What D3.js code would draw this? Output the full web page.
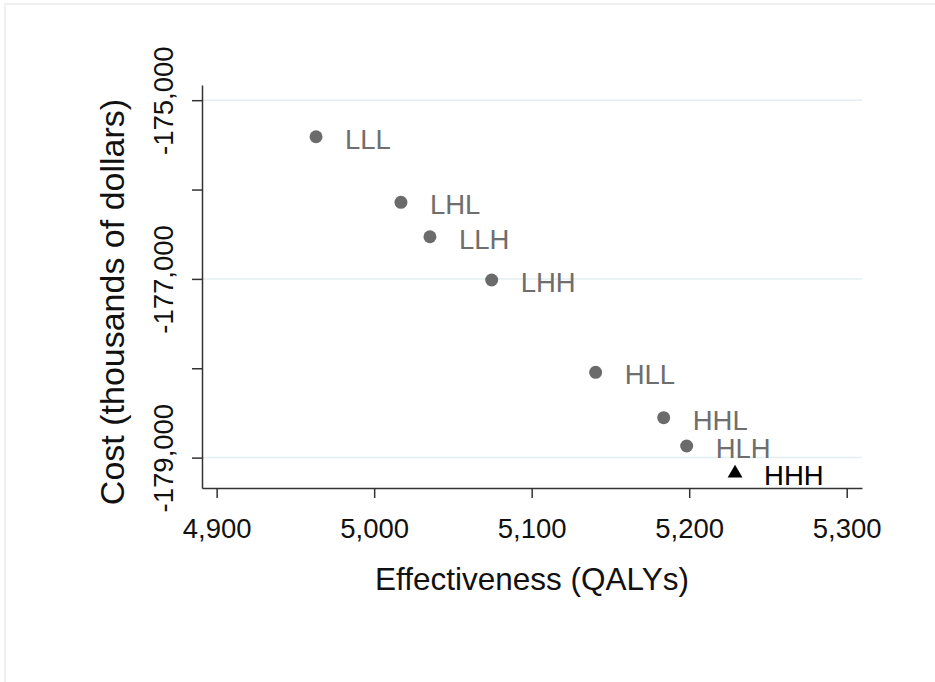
<!DOCTYPE html>
<html>
<head>
<meta charset="utf-8">
<script src="https://cdn.jsdelivr.net/npm/d3@7"></script>
<style>
  body { margin: 0; background: #fff; }
  svg text { font-family: "Liberation Sans", Arial, sans-serif; }
</style>
</head>
<body>
<div class="chart"></div>
<script>
// strategy labels and their (effectiveness, cost) values
var strategies = ["LLL", "LHL", "LLH", "LHH", "HLL", "HHL", "HLH", "HHH"];
var effectiveness = [4963.1, 5017.0, 5035.4, 5074.6, 5140.6, 5183.8, 5198.4, 5229.1];
var cost = [-175409, -176143, -176528, -177012, -178045, -178553, -178870, -179175];
var xTicks = [4900, 5000, 5100, 5200, 5300];
var yTicks = [-175000, -176000, -177000, -178000, -179000];
var yLabelTicks = [-175000, -177000, -179000];

var width = 935, height = 682;

var svg = d3.select(".chart").append("svg")
    .attr("width", width)
    .attr("height", height);

// faint outer frame
svg.append("rect")
    .attr("x", 5).attr("y", 4)
    .attr("width", width).attr("height", height)
    .attr("fill", "none")
    .attr("stroke", "#ececec")
    .attr("stroke-width", 1.5);

// scales (domain stretched a bit past the ticks, as in the original)
var x = d3.scaleLinear().domain([4890.7, 5309.7]).range([202, 862]);
var y = d3.scaleLinear().domain([-179340, -174830]).range([488, 85]);

// grid lines on labelled y ticks
svg.selectAll(".grid")
    .data(yLabelTicks)
    .enter().append("line")
    .attr("class", "grid")
    .attr("x1", x.range()[0]).attr("x2", x.range()[1])
    .attr("y1", function(d) { return y(d); })
    .attr("y2", function(d) { return y(d); })
    .attr("stroke", "#e4eef0")
    .attr("stroke-width", 1.5);

// x axis
var xAxis = svg.append("g")
    .attr("transform", "translate(0," + y.range()[0] + ")")
    .call(d3.axisBottom(x).tickValues(xTicks).tickSize(10).tickSizeOuter(0)
        .tickFormat(d3.format(",")));

// y axis
var yAxis = svg.append("g")
    .attr("transform", "translate(" + x.range()[0] + ",0)")
    .call(d3.axisLeft(y).tickValues(yTicks).tickSize(10).tickSizeOuter(0)
        .tickFormat(function(d) { return yLabelTicks.indexOf(d) >= 0 ? d3.format(",")(d).replace("−", "-") : ""; }));

[xAxis, yAxis].forEach(function(a) {
    a.select(".domain").attr("stroke", "#333").attr("stroke-width", 1.5);
    a.selectAll(".tick line").attr("stroke", "#333").attr("stroke-width", 1.5);
    a.selectAll(".tick text")
        .attr("fill", "#111")
        .style("font-size", "27.5px")
        .style("font-family", "'Liberation Sans', Arial, sans-serif");
});

xAxis.selectAll(".tick text").attr("dy", "0.71em").attr("y", 30);

// rotated y tick labels
yAxis.selectAll(".tick text")
    .attr("x", null).attr("dy", null)
    .attr("text-anchor", "middle")
    .attr("transform", "translate(-29,0) rotate(-90)");

// axis titles
svg.append("text")
    .attr("x", (x.range()[0] + x.range()[1]) / 2)
    .attr("y", 590)
    .attr("text-anchor", "middle")
    .attr("fill", "#111")
    .style("font-size", "31.5px")
    .text("Effectiveness (QALYs)");

svg.append("text")
    .attr("transform", "translate(124,302) rotate(-90)")
    .attr("text-anchor", "middle")
    .attr("fill", "#111")
    .style("font-size", "34px")
    .text("Cost (thousands of dollars)");

// points
var idx = d3.range(strategies.length);
var isBest = function(i) { return strategies[i] === "HHH"; };

svg.selectAll(".pt")
    .data(idx.filter(function(i) { return !isBest(i); }))
    .enter().append("circle")
    .attr("class", "pt")
    .attr("cx", function(i) { return x(effectiveness[i]); })
    .attr("cy", function(i) { return y(cost[i]); })
    .attr("r", 6.5)
    .attr("fill", "#6b6b6b");

svg.selectAll(".tri")
    .data(idx.filter(isBest))
    .enter().append("path")
    .attr("class", "tri")
    .attr("transform", function(i) { return "translate(" + x(effectiveness[i]) + "," + y(cost[i]) + ")"; })
    .attr("d", d3.symbol().type(d3.symbolTriangle).size(95))
    .attr("fill", "#000");

// point labels
svg.selectAll(".lbl")
    .data(idx)
    .enter().append("text")
    .attr("class", "lbl")
    .attr("x", function(i) { return x(effectiveness[i]) + 29; })
    .attr("y", function(i) { return y(cost[i]) + 12; })
    .attr("fill", function(i) { return isBest(i) ? "#000" : "#6e6e6e"; })
    .style("font-size", "27.5px")
    .text(function(i) { return strategies[i]; });
</script>
</body>
</html>
